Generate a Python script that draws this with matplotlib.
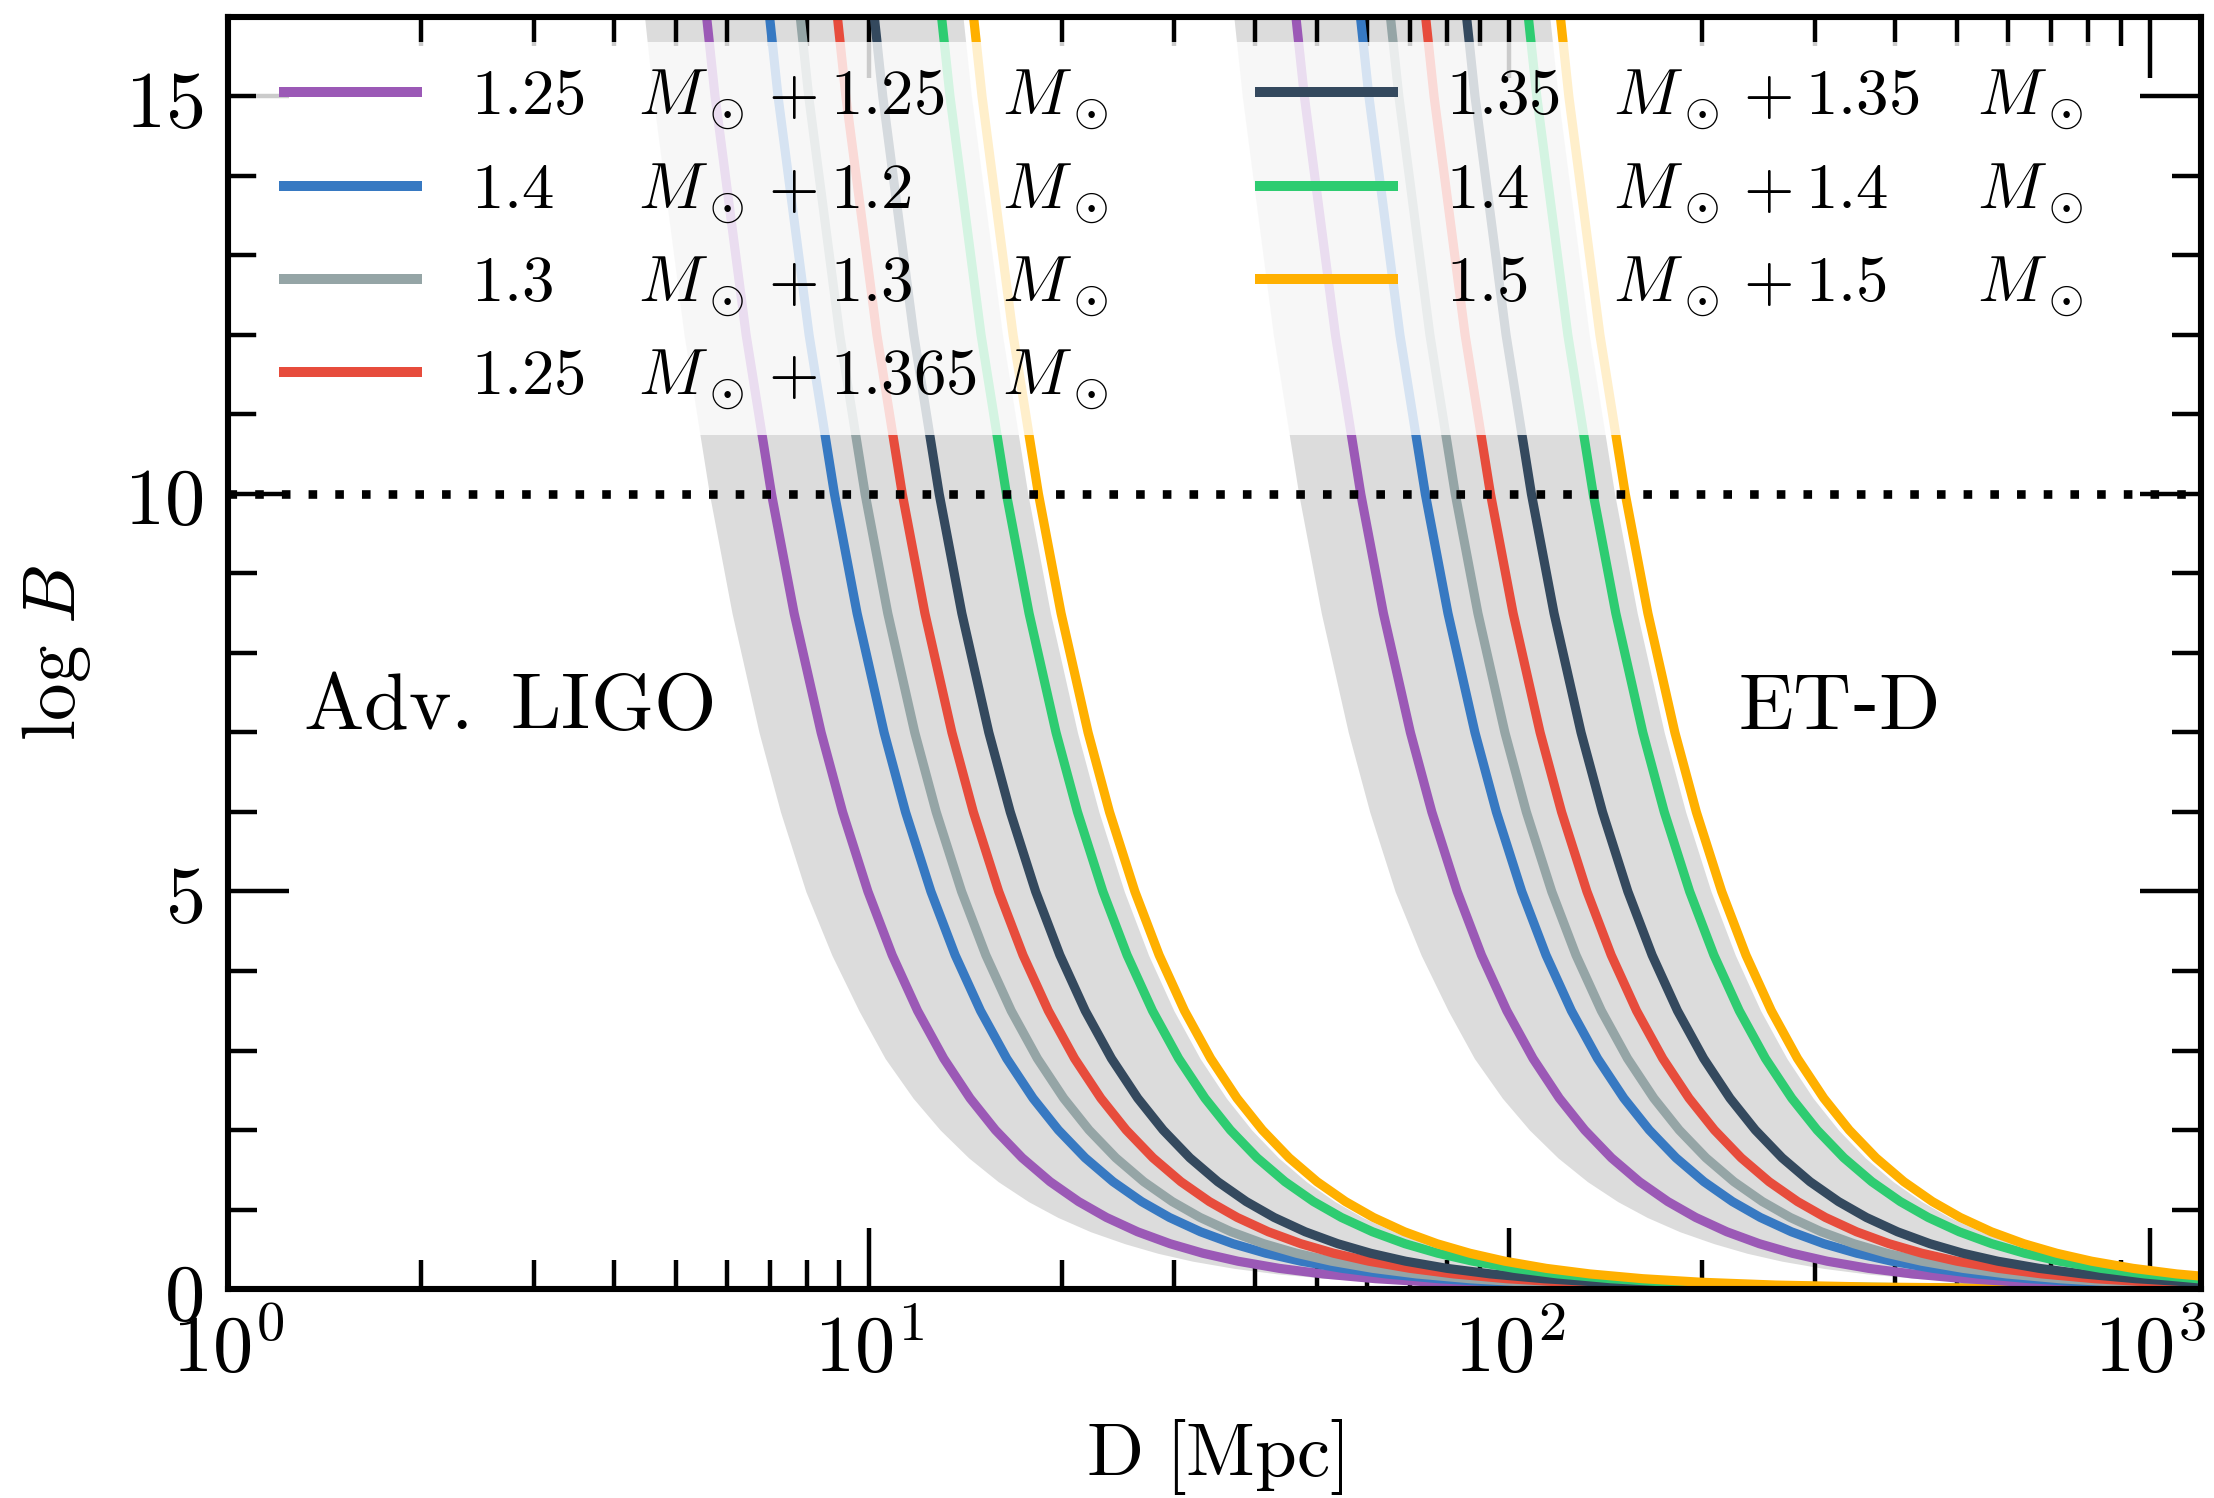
import math
import matplotlib
matplotlib.use("Agg")
import matplotlib.pyplot as plt
from matplotlib.lines import Line2D
from matplotlib.ticker import FixedLocator, FuncFormatter, LogLocator, NullFormatter

plt.rcParams['mathtext.fontset'] = 'cm'
plt.rcParams['font.family'] = ['DejaVu Serif']

# ---------------- data ----------------
# log B levels at which the distance D [Mpc] of each curve was read
logB_levels = [18, 15, 12, 10, 8.5, 7, 6, 5, 4.2, 3.5, 2.9, 2.4, 2.0, 1.65, 1.35, 1.1, 0.9,
               0.72, 0.57, 0.45, 0.35, 0.26, 0.19, 0.13, 0.085, 0.05, 0.025, 0.01, 0.004]

labels_m1 = ['1.25', '1.4', '1.3', '1.25', '1.35', '1.4', '1.5']
labels_m2 = ['1.25', '1.2', '1.3', '1.365', '1.35', '1.4', '1.5']
colors = ['#9b59b6', '#3779c2', '#95a5a6', '#e74c3c', '#34495e', '#2ecc71', '#ffb000']

# Adv. LIGO curves: D at each log B level
ligo_purple = [5.255, 5.756, 6.436, 7.05, 7.647, 8.426, 9.102, 9.970, 10.878, 11.917, 13.092, 14.390, 15.765, 17.356, 19.188,
               21.256, 23.500, 26.274, 29.529, 33.234, 37.684, 43.722, 51.146, 61.833, 76.471, 99.70, 141.0, 222.9, 352.5]
ligo_blue = [6.589, 7.218, 8.070, 8.84, 9.589, 10.566, 11.412, 12.502, 13.640, 14.942, 16.416, 18.044, 19.767, 21.762, 24.060,
             26.653, 29.466, 32.945, 37.026, 41.672, 47.252, 54.823, 64.132, 77.532, 95.887, 125.0, 176.8, 279.5, 442.0]
ligo_gray = [7.357, 8.059, 9.010, 9.87, 10.706, 11.797, 12.742, 13.958, 15.229, 16.683, 18.329, 20.147, 22.070, 24.298, 26.863,
             29.759, 32.900, 36.784, 41.340, 46.527, 52.757, 61.211, 71.605, 86.566, 107.06, 139.58, 197.4, 312.1, 493.5]
ligo_red = [8.408, 9.210, 10.298, 11.28, 12.235, 13.482, 14.562, 15.952, 17.405, 19.067, 20.947, 23.025, 25.223, 27.769, 30.701,
            34.010, 37.600, 42.038, 47.246, 53.174, 60.294, 69.955, 81.834, 98.932, 122.35, 159.52, 225.6, 356.7, 564.0]
ligo_dark = [9.601, 10.517, 11.758, 12.88, 13.971, 15.394, 16.628, 18.215, 19.874, 21.771, 23.918, 26.291, 28.801, 31.708, 35.056,
             38.834, 42.933, 48.001, 53.948, 60.716, 68.846, 79.878, 93.442, 112.97, 139.71, 182.15, 257.6, 407.3, 644.0]
ligo_green = [12.225, 13.391, 14.972, 16.4, 17.789, 19.601, 21.172, 23.193, 25.305, 27.721, 30.455, 33.476, 36.672, 40.374, 44.636,
              49.448, 54.666, 61.120, 68.691, 77.310, 87.661, 101.71, 118.98, 143.84, 177.89, 231.93, 328.0, 518.6, 820.0]
ligo_yellow = [13.715, 15.024, 16.797, 18.4, 19.958, 21.992, 23.754, 26.021, 28.391, 31.102, 34.169, 37.558, 41.144, 45.297, 50.079,
               55.478, 61.333, 68.573, 77.068, 86.738, 98.352, 114.11, 133.49, 161.38, 199.58, 260.21, 368.0, 581.9, 920.0]
ligo_band_low = [4.204, 4.605, 5.149, 5.640, 6.118, 6.741, 7.282, 7.976, 8.757, 9.653, 10.605, 11.728, 12.927, 14.319, 15.926,
                 17.749, 19.740, 22.202, 25.100, 28.249, 32.031, 37.164, 43.474, 52.558, 65.000, 84.745, 119.85, 189.5, 299.6]
ligo_band_high = [13.203, 14.462, 16.170, 17.712, 19.212, 21.169, 22.866, 25.048, 27.329, 29.939, 32.891, 36.154, 39.606, 43.604, 48.207,
                  53.404, 59.039, 66.010, 74.186, 83.495, 94.674, 109.85, 128.50, 155.35, 192.12, 250.48, 354.2, 560.1, 885.6]

# ET-D curves: D at each log B level
etd_purple = [43.68, 47.85, 53.50, 58.6, 63.56, 70.04, 75.65, 82.87, 90.42, 99.05, 108.82, 119.61, 131.04, 144.26, 159.49,
              176.68, 195.33, 218.39, 245.45, 276.24, 313.23, 363.42, 425.13, 513.96, 635.63, 828.72, 1172, 1853, 2930]
etd_blue = [55.08, 60.34, 67.46, 73.9, 80.16, 88.33, 95.40, 104.51, 114.03, 124.91, 137.23, 150.84, 165.25, 181.93, 201.13,
            222.82, 246.33, 275.41, 309.53, 348.36, 395.01, 458.31, 536.13, 648.15, 801.59, 1045.1, 1478, 2337, 3695]
etd_gray = [61.35, 67.20, 75.13, 82.3, 89.27, 98.36, 106.25, 116.39, 126.99, 139.11, 152.83, 167.99, 184.03, 202.61, 224.00,
            248.14, 274.33, 306.72, 344.71, 387.96, 439.91, 510.40, 597.07, 721.82, 892.71, 1163.9, 1646, 2603, 4115]
etd_red = [69.62, 76.26, 85.26, 93.4, 101.31, 111.63, 120.58, 132.09, 144.12, 157.87, 173.44, 190.65, 208.85, 229.93, 254.21,
           281.61, 311.33, 348.08, 391.21, 440.29, 499.24, 579.24, 677.60, 819.17, 1013.1, 1320.9, 1868, 2954, 4670]
etd_dark = [80.65, 88.35, 98.78, 108.2, 117.36, 129.32, 139.69, 153.02, 166.95, 182.89, 200.93, 220.86, 241.95, 266.37, 294.49,
            326.23, 360.66, 403.24, 453.20, 510.05, 578.35, 671.02, 784.97, 948.98, 1173.6, 1530.2, 2164, 3422, 5410]
etd_green = [100.70, 110.31, 123.33, 135.1, 146.54, 161.47, 174.41, 191.06, 208.46, 228.36, 250.88, 275.77, 302.10, 332.59, 367.70,
             407.34, 450.33, 503.49, 565.87, 636.86, 722.14, 837.85, 980.12, 1184.9, 1465.4, 1910.6, 2702, 4272, 6755]
etd_yellow = [113.00, 123.78, 138.40, 151.6, 164.44, 181.19, 195.72, 214.39, 233.92, 256.25, 281.52, 309.45, 338.99, 373.21, 412.61,
              457.09, 505.33, 564.98, 634.98, 714.64, 810.33, 940.18, 1099.8, 1329.6, 1644.4, 2143.9, 3032, 4794, 7580]
etd_band_low = [34.94, 38.28, 42.80, 46.88, 50.85, 56.03, 60.52, 66.30, 72.79, 80.23, 88.14, 97.48, 107.45, 119.01, 132.38,
                147.53, 164.08, 184.54, 208.63, 234.80, 266.25, 308.91, 361.36, 436.87, 540.29, 704.41, 996.2, 1575, 2491]
etd_band_high = [108.76, 119.13, 133.20, 145.91, 158.26, 174.39, 188.36, 206.34, 225.14, 246.63, 270.95, 297.83, 326.27, 359.20, 397.12,
                 439.93, 486.36, 543.77, 611.14, 687.81, 779.91, 904.88, 1058.5, 1279.7, 1582.6, 2063.4, 2918, 4614, 7295]

threshold = 10
xticks_major = [1, 10, 100, 1000]
yticks_major = [0, 5, 10, 15]

# ---------------- figure ----------------
fig = plt.figure(figsize=(11.07, 7.49), dpi=200)
ax = fig.add_axes([0.1030, 0.1395, 0.9941 - 0.1030, 0.9887 - 0.1395])
ax.set_xscale('log')
ax.set_xlim(1, 1200)
ax.set_ylim(0, 16)

band_color = '#dcdcdc'
ax.fill_betweenx(logB_levels, ligo_band_low, ligo_band_high, color=band_color, lw=0, zorder=0.2)
ax.fill_betweenx(logB_levels, etd_band_low, etd_band_high, color=band_color, lw=0, zorder=0.2)

ligo_curves = [ligo_purple, ligo_blue, ligo_gray, ligo_red, ligo_dark, ligo_green, ligo_yellow]
etd_curves = [etd_purple, etd_blue, etd_gray, etd_red, etd_dark, etd_green, etd_yellow]

lw = 3.3
for D, c in zip(ligo_curves, colors):
    ax.plot(D, logB_levels, color=c, lw=lw, zorder=2, solid_capstyle='butt', solid_joinstyle='round')
for D, c in zip(etd_curves, colors):
    ax.plot(D, logB_levels, color=c, lw=lw, zorder=2, solid_capstyle='butt', solid_joinstyle='round')

ax.axhline(threshold, color='k', lw=3.1, ls=(0, (1, 2.1)), zorder=3)

ax.text(1.31, 7.32, r'$\mathrm{Adv.\ LIGO}$', fontsize=29, va='center', ha='left')
ax.text(227, 7.32, r'$\mathrm{ET}$-$\mathrm{D}$', fontsize=29, va='center', ha='left')

# ticks
ax.set_axisbelow(True)
ax.xaxis.set_major_locator(FixedLocator(xticks_major))
ax.xaxis.set_minor_locator(LogLocator(base=10, subs=[2, 3, 4, 5, 6, 7, 8, 9], numticks=20))
ax.xaxis.set_minor_formatter(NullFormatter())
ax.xaxis.set_major_formatter(FuncFormatter(lambda v, p: r'$\mathrm{10}^{\mathrm{%d}}$' % round(math.log10(v))))
ax.yaxis.set_major_locator(FixedLocator(yticks_major))
ax.yaxis.set_minor_locator(FixedLocator(list(range(0, 17))))
ax.yaxis.set_major_formatter(FuncFormatter(lambda v, p: r'$\mathrm{%d}$' % v))
ax.tick_params(which='both', direction='in', top=True, right=True, width=1.6)
ax.tick_params(which='major', length=22, labelsize=29)
ax.tick_params(which='minor', length=10.5)
ax.tick_params(axis='x', which='major', pad=8)
ax.tick_params(axis='y', which='major', pad=9)
for s in ax.spines.values():
    s.set_linewidth(2.2)

ax.set_xlabel(r'$\mathrm{D}\ [\mathrm{Mpc}]$', fontsize=27, labelpad=10)
ax.set_ylabel(r'$\log\,B$', fontsize=27, labelpad=11)

# legend
def width_em(s):
    return 0.5 * sum(ch.isdigit() for ch in s) + 0.2778 * s.count('.')

m_em = 0.878
labels = []
for a, b in zip(labels_m1, labels_m2):
    pad1 = (0.8 + 1.778 - width_em(a)) / m_em
    pad2 = (2.65 - width_em(b)) / m_em
    labels.append(r'$\mathrm{%s}\hspace{%.3f}M_\odot+\mathrm{%s}\hspace{%.3f}M_\odot$' % (a, pad1, b, pad2))
handles = [Line2D([], [], color=c, lw=3.6, solid_capstyle='butt') for c in colors]
leg = ax.legend(handles, labels, ncol=2, loc='upper left', bbox_to_anchor=(0.0142, 0.980),
                borderaxespad=0, borderpad=0.35, handlelength=2.2, handletextpad=0.75,
                columnspacing=2.26, labelspacing=0.40, fontsize=23.4, frameon=True,
                fancybox=False, framealpha=0.8)
leg.get_frame().set_edgecolor('none')
leg.get_frame().set_facecolor('white')
leg.set_zorder(5)

fig.savefig('out.png', dpi=200)
